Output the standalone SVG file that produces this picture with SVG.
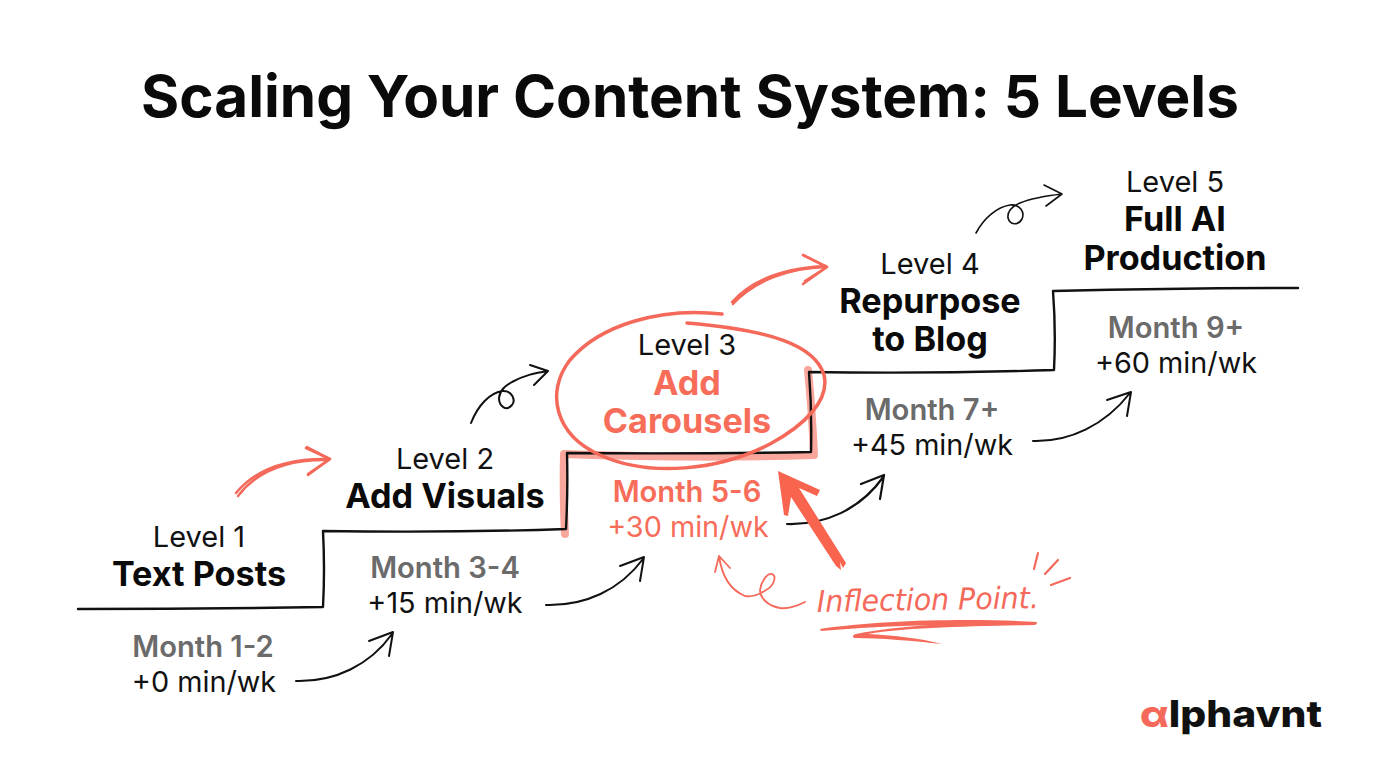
<svg xmlns="http://www.w3.org/2000/svg" width="1376" height="768" viewBox="0 0 1376 768">
<style>
text{font-family:Inter,"Liberation Sans",sans-serif;text-anchor:middle}
.t{font-size:58.4px;font-weight:700;fill:#0a0a0a}
.l{font-size:29px;fill:#111}
.n{font-size:34.2px;font-weight:700;fill:#0a0a0a}
.m{font-size:29.2px;font-weight:600;fill:#6b6b6b}
.w{font-size:28.8px;fill:#111}
.c{fill:#f76d5a}
.ink{fill:none;stroke:#111;stroke-linecap:round;stroke-linejoin:round}
.cor{fill:none;stroke:#f4695a;stroke-linecap:round;stroke-linejoin:round}
.hd{fill:#f4695a}
</style>
<rect width="1376" height="768" fill="#fff"/>
<text id="title" class="t" x="690" y="117">Scaling Your Content System: 5 Levels</text>
<g id="connectors">
<path id="stairs-hl" d="M565 534Q563 495 564 454Q700 459 814 455Q812 410 808 370" fill="none" stroke="#f9a79c" stroke-width="8" stroke-linecap="round" stroke-linejoin="round"/>
<path id="stairs" class="ink" stroke-width="2.4" d="M78 609Q200 609 323 607Q325 570 323 531Q450 533 566 529Q568 490 567 453Q700 454 811 452Q812 410 809 372Q930 374 1054 370Q1056 330 1053 291Q1180 288 1298 288"/>
<path class="cor" stroke-width="3.5" d="M722 314C660 307 600 325 570 360C545 392 555 435 600 455C650 478 720 470 770 444C805 425 830 400 824 375C815 345 770 330 687 323"/>
<path class="cor" stroke-width="2.4" d="M236 493C255 470 285 458 329 459M238 496C258 470 290 459 329 460M307 447L330 459L308 475"/>
<path class="cor" stroke-width="2.6" d="M306 448L330 459L308 474"/>
<path class="ink" stroke-width="2" d="M471 423C478 405 490 393 502 391C512 390 516 400 512 405C506 412 499 406 499 398C500 390 505 386 512 382C525 375 535 373 548 371M530 365L548 371L534 385"/>
<path class="cor" stroke-width="2.4" d="M732 302C750 282 780 268 826 266M733 304C755 280 790 268 826 267M803 255L827 267L803 284"/>
<path class="cor" stroke-width="2.6" d="M803 255L827 267L805 281"/>
<path class="ink" stroke-width="1.6" d="M976 233C984 218 997 207 1010 205C1020 204 1025 212 1022 219C1018 226 1010 225 1008 218C1007 210 1013 206 1020 203C1032 198 1045 196 1062 194M1044 185L1062 194L1046 206"/>
<path class="ink" stroke-width="2" d="M296 681C335 682 370 665 392 634M369 641L393 632L389 656"/>
<path class="ink" stroke-width="2" d="M546 605C585 606 620 590 643 559M620 566L644 557L640 581"/>
<path class="ink" stroke-width="2.2" d="M787 524C825 525 860 510 884 476M861 484L884 475L880 499"/>
<path class="ink" stroke-width="2" d="M1033 441C1070 442 1105 425 1130 393M1107 400L1131 392L1127 416"/>
<path class="cor" stroke-width="1.8" d="M805 602C795 607 787 609 780 608C768 606 760 598 760 590C761 582 767 573 772 574C777 576 774 586 766 590C757 596 750 597 745 596C730 590 722 577 719 556M715 572L719 556L730 568"/>
<path fill="#f9644f" d="M778 471L820 490L817 496L799 488L846 563L843 568L840 562L841 570L836 566L791 497L788 516L784 515Z"/>
<path class="hd" d="M820 629C880 620 970 618 1037 622C1037 624 1036 625 1034 625C970 626 900 628 868 634C890 635 920 638 942 644C915 641 880 638 854 638C852 636 853 635 856 634C875 630 900 627 930 625C895 626 855 628 821 631Z"/>
<path class="cor" stroke-width="2.2" d="M1034 569L1038 553M1045 574L1058 560M1051 585L1070 578"/>
</g>
<g id="level-1"><text class="l" x="199" y="547">Level 1</text><text class="n" x="199" y="586">Text Posts</text><text class="m" x="203" y="657">Month 1-2</text><text class="w" x="204" y="692">+0 min/wk</text></g>
<g id="level-2"><text class="l" x="445" y="469">Level 2</text><text class="n" x="445" y="508">Add Visuals</text><text class="m" x="445" y="578">Month 3-4</text><text class="w" x="445" y="613">+15 min/wk</text></g>
<g id="level-3"><text class="l" x="687" y="355">Level 3</text><text class="n c" x="687" y="395">Add</text><text class="n c" x="687" y="433">Carousels</text><text class="m c" x="687" y="502">Month 5-6</text><text class="w c" x="688" y="537">+30 min/wk</text></g>
<g id="level-4"><text class="l" x="930" y="274">Level 4</text><text class="n" x="930" y="313">Repurpose</text><text class="n" x="930" y="351">to Blog</text><text class="m" x="932" y="420">Month 7+</text><text class="w" x="932" y="455">+45 min/wk</text></g>
<g id="level-5"><text class="l" x="1175" y="192">Level 5</text><text class="n" x="1175" y="231">Full AI</text><text class="n" x="1175" y="270">Production</text><text class="m" x="1176" y="338">Month 9+</text><text class="w" x="1176" y="373">+60 min/wk</text></g>
<text id="inflection" x="928" y="610" transform="rotate(-1 928 610)" style="font-family:'DejaVu Sans',sans-serif;font-style:oblique;font-size:30px;fill:#f4695a" textLength="222" lengthAdjust="spacingAndGlyphs">Inflection Point.</text>
<text id="logo" x="1140" y="727" textLength="182" lengthAdjust="spacingAndGlyphs" style="font-family:Inter,sans-serif;font-size:37px;font-weight:800;fill:#111;text-anchor:start"><tspan fill="#f4695a">α</tspan>lphavnt</text>
</svg>
